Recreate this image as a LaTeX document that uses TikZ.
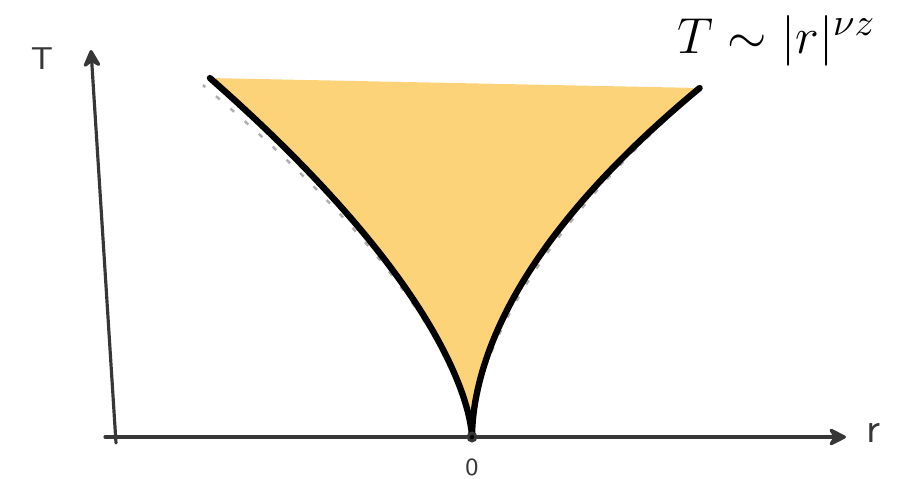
\documentclass[tikz,border=0pt]{standalone}
\usepackage{amsmath,amssymb}
\usepackage{xcolor}
\usepackage{tikz}
\usetikzlibrary{arrows.meta,calc}
\definecolor{figline}{RGB}{55,55,55}
\definecolor{figfill}{RGB}{253,211,122}
\definecolor{figsketch}{RGB}{110,110,110}
\tikzset{
  ax/.style   ={draw=figline, line width=0.9pt, line cap=round},
  axp/.style  ={ax, -{Stealth[length=6pt,width=6pt,round]}},
  crv/.style  ={draw=black, line width=1.8pt, line cap=round},
  skt/.style  ={draw=figsketch, line width=0.7pt, dash pattern=on 1.4pt off 4pt, opacity=0.55},
  lab/.style  ={font=\sffamily, text=figline, inner sep=1pt},
  eqn/.style  ={font=\fontsize{15.5}{18}\selectfont, inner sep=1pt},
}
\begin{document}
\begin{tikzpicture}[scale=1]
  \useasboundingbox (0,0) rectangle (9.11,4.78);
  \coordinate (orig) at (4.72,0.41);
  \coordinate (xa) at (1.05,0.41);
  \coordinate (xb) at (8.46,0.41);
  \coordinate (ya) at (1.16,0.35);
  \coordinate (yb) at (0.91,4.28);
  \coordinate (ltop) at (2.10,4.00);
  \coordinate (rtop) at (7.00,3.90);
  \fill[figfill] (orig) -- plot[domain=0.01:3.59,variable=\t] ({4.72-0.357*pow(\t,1.56)},{0.41+\t})
    -- plot[domain=3.49:0.01,variable=\t] ({4.72+0.2255*pow(\t,1.85)},{0.41+\t}) -- cycle;
  \draw[skt] plot[domain=0.3:3.52,variable=\t,samples=60] ({4.72-0.378*pow(\t,1.56)},{0.41+\t});
  \draw[skt] plot[domain=0.85:3.38,variable=\t,samples=60] ({4.72+0.26*pow(\t,1.74)},{0.41+\t});
  \draw[ax] (xa) -- (orig);
  \draw[axp] (orig) -- (xb);
  \draw[axp] (ya) -- (yb);
  \draw[crv] (orig) -- plot[domain=0.01:3.59,variable=\t,samples=60] ({4.72-0.357*pow(\t,1.56)},{0.41+\t});
  \draw[crv] (orig) -- plot[domain=0.01:3.49,variable=\t,samples=60] ({4.72+0.2255*pow(\t,1.85)},{0.41+\t});
  \draw[figline, line width=0.8pt] (orig) circle (0.04);
  \node[lab,font=\sffamily\small] (tlab) at (0.42,4.19) {T};
  \node[lab,font=\sffamily\large] (rlab) at (8.74,0.45) {r};
  \node[lab,font=\sffamily\scriptsize] (olab) at (4.72,0.11) {0};
  \node[eqn] (law) at (7.77,4.37) {$T \sim |r|^{\nu z}$};
\end{tikzpicture}
\end{document}
